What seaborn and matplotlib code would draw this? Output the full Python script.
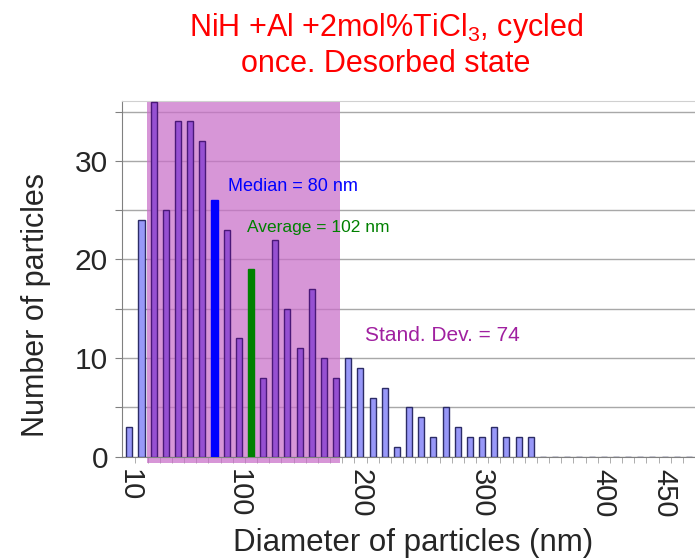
import numpy as np
import pandas as pd
import matplotlib
matplotlib.use('Agg')
import matplotlib.pyplot as plt
import seaborn as sns
from matplotlib.patches import Rectangle
from matplotlib.ticker import FixedLocator

sns.set_style('white')
plt.rcParams['font.family'] = ['Liberation Sans', 'DejaVu Sans']
plt.rcParams['mathtext.fontset'] = 'custom'
plt.rcParams['mathtext.rm'] = 'Liberation Sans'
plt.rcParams['mathtext.default'] = 'regular'

# particle size bins (nm, upper edge) and counts
bins = list(range(10, 480, 10))
counts = [3, 24, 36, 25, 34, 34, 32, 26, 23, 12, 19, 8, 22, 15, 11, 17, 10, 8,
          10, 9, 6, 7, 1, 5, 4, 2, 5, 3, 2, 2, 3, 2, 2, 2,
          0, 0, 0, 0, 0, 0, 0, 0, 0, 0, 0, 0, 0]
median_bin = 80
average_bin = 110
band_lo, band_hi = 30, 180   # average +- stand. dev.
xtick_vals = [10, 100, 200, 300, 400, 450]
ytick_vals = [0, 5, 10, 15, 20, 25, 30, 35]
ytick_labels = ['0', '', '10', '', '20', '', '30', '']

title = 'NiH +Al +2mol%TiCl$_3$, cycled\nonce. Desorbed state'

df = pd.DataFrame({'bin': bins, 'count': counts})

light = '#9898F8'
purple = '#9650D2'
pal = {}
edges = []
for b in bins:
    if b == median_bin:
        pal[b] = '#0000FF'; edges.append('#0000FF')
    elif b == average_bin:
        pal[b] = '#008000'; edges.append('#008000')
    elif band_lo <= b <= band_hi:
        pal[b] = purple; edges.append('#4A1878')
    else:
        pal[b] = light; edges.append('#2C2C66')

fig = plt.figure(figsize=(6.95, 5.59), dpi=100)
ax = fig.add_axes([122/695, 1 - 456.7/559, 1 - 122/695, (456.7 - 101)/559])

sns.barplot(data=df, x='bin', y='count', hue='bin', palette=pal, legend=False,
            width=0.5, linewidth=1.0, saturation=1, ax=ax, zorder=3)
for p, ec in zip(ax.patches, edges):
    p.set_edgecolor(ec)

# stand. dev. band
lo = bins.index(band_lo) - 0.55
hi = bins.index(band_hi) + 0.3
ax.add_patch(Rectangle((lo, -0.017), hi - lo, 1.017, transform=ax.get_xaxis_transform(),
                       facecolor='#C86EC8', alpha=0.72, edgecolor='none',
                       clip_on=False, zorder=1))

ax.set_xlim(-0.6, 46.37)
ax.set_ylim(0, 36.07)

ax.yaxis.set_major_locator(FixedLocator(ytick_vals))
ax.set_yticklabels(ytick_labels, fontsize=21.5)
ax.yaxis.grid(True, color='#A8A8A8', lw=1.0, zorder=0)
ax.set_axisbelow(True)
ax.tick_params(axis='y', length=5, color='#808080', pad=5, left=True)

ax.set_xticks([bins.index(v) for v in xtick_vals])
ax.set_xticklabels([str(v) for v in xtick_vals], rotation=-90, fontsize=21)
ax.set_xticks(np.arange(len(bins)) + 0.5, minor=True)
ax.tick_params(axis='x', which='major', length=0, pad=9)
ax.tick_params(axis='x', which='minor', length=4, color='#A0A0A0', bottom=True)

for s in ['left', 'bottom']:
    ax.spines[s].set_color('#808080')
ax.spines['top'].set_color('#D0D0D0')
ax.spines['right'].set_visible(False)

ax.set_ylabel('Number of particles', fontsize=22)
ax.yaxis.label.set_va('center')
ax.yaxis.set_label_coords(-0.150, 0.4265)
ax.set_xlabel('Diameter of particles (nm)', fontsize=22.5)
ax.xaxis.label.set_va('center')
ax.xaxis.set_label_coords(0.508, -0.2426)

ax.text(8.09, 27.35, 'Median = 80 nm', color='#0000FF', fontsize=13, va='center', zorder=5)
ax.text(9.65, 23.2, 'Average = 102 nm', color='#008000', fontsize=12.5, va='center', zorder=5)
ax.text(19.4, 12.24, 'Stand. Dev. = 74', color='#A020A0', fontsize=15, va='center', zorder=5)

fig.text(386/695, 1 - 45/559, title, color='#FF0000', fontsize=22, ha='center',
         va='center', linespacing=1.15)

fig.savefig('out.png', dpi=100)
